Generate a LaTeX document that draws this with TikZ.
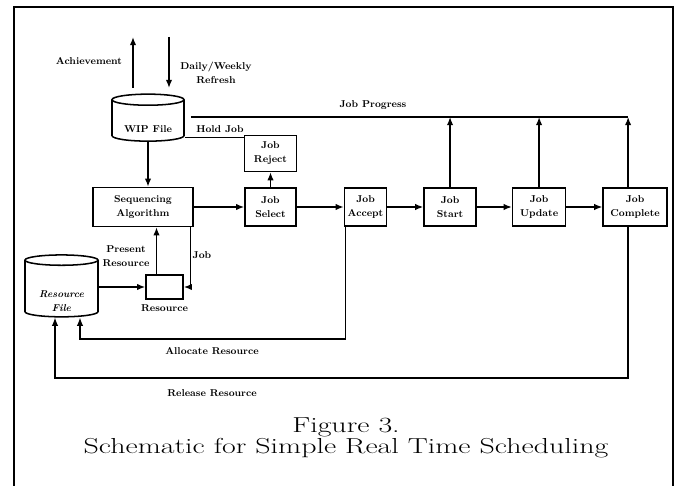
\documentclass[tikz,border=0pt]{standalone}
\usepackage{fontspec}
\newfontfamily\capfont[FakeStretch=1.38]{Latin Modern Roman}
\usetikzlibrary{positioning, arrows.meta, shapes.geometric, calc}

\begin{document}
\begin{tikzpicture}[
    x=0.03cm, y=-0.03cm,
    node distance=1.08cm,
    box/.style={draw, line width=1.3pt, minimum height=1.14cm, inner sep=1pt,
                font=\fontsize{8.5}{12}\selectfont\bfseries, align=center},
    store/.style={draw, line width=1.3pt, cylinder, shape border rotate=90,
                  aspect=0.22, inner sep=1pt, align=center,
                  font=\fontsize{8.5}{12}\selectfont\bfseries},
    arrow/.style={-{Latex[length=7pt, width=5.5pt]}, line width=1.2pt},
    link/.style={line width=1.2pt},
    label/.style={font=\fontsize{8.5}{11.5}\selectfont\bfseries, align=center},
]

\useasboundingbox (0,0) rectangle (682,486);

% === Frame ===
\draw[line width=2.2pt] (14,486) |- (673,7) -- (673,486);

% === Files ===
\node[store, minimum width=2.16cm, minimum height=1.41cm, text height=19pt]
  (wip) at (148,121.5) {WIP File};
\node[store, minimum width=2.19cm, minimum height=1.65cm,
      font=\fontsize{8.5}{12}\selectfont\bfseries\itshape] (resfile) at (61.5,289.5)
  {\rule{0pt}{26pt}Resource\\File};

% === Scheduling chain ===
\node[box, minimum width=3cm, minimum height=1.17cm] (seq) at (143,207)
  {Sequencing\\Algorithm};
\node[box, minimum width=1.53cm] (select) at (270.5,207) {Job\\Select};
\node[box, minimum width=1.26cm, right=1.41cm of select] (accept) {Job\\Accept};
\node[box, minimum width=1.56cm, right=1.08cm of accept] (start) {Job\\Start};
\node[box, minimum width=1.59cm, right=1.05cm of start] (update) {Job\\Update};
\node[box, minimum width=1.92cm, right=1.08cm of update] (complete) {Job\\Complete};
\node[box, minimum width=1.56cm, minimum height=1.08cm, above=0.45cm of select]
  (reject) {Job\\Reject};

% === Resource ===
\node[box, minimum width=1.11cm, minimum height=0.72cm] (res) at (164.5,287) {};
\node[label, below=1pt of res] (reslabel) {Resource};

% === Outside flows ===
\coordinate (achlow)  at (133,88);
\coordinate (achhigh) at (133,37);
\coordinate (refhigh) at (169,37);
\coordinate (reflow)  at (169,88);
\draw[arrow] (achlow) -- (achhigh);
\draw[arrow] (refhigh) -- (reflow);
\node[label] (achlabel) at (89,61) {Achievement};
\node[label] (reflabel) at (216,73) {Daily/Weekly\\Refresh};

% === Arrows ===
\draw[arrow] (wip.south) -- (wip.south |- seq.north);
\draw[arrow] (seq) -- (select);
\draw[arrow] (select) -- (reject);
\draw[arrow] (select) -- (accept);
\draw[arrow] (accept) -- (start);
\draw[arrow] (start) -- (update);
\draw[arrow] (update) -- (complete);

% Hold job
\coordinate (holdend) at ($(reject.north west)+(0,3)$);
\draw[link] (holdend) -- (holdend -| wip.east);
\node[label] (holdlabel) at (220,129) {Hold Job};

% Job progress
\coordinate (prog) at (0,117);
\coordinate (cdone) at ($(complete.south)+(-7,0)$);
\draw[link] ([xshift=0.18cm]wip.east |- prog) -- (cdone |- prog);
\draw[arrow] (start.north) -- (start.north |- prog);
\draw[arrow] (update.north) -- (update.north |- prog);
\draw[arrow] (cdone |- complete.north) -- (cdone |- prog);
\node[label] (proglabel) at (373,105) {Job Progress};

% Resource loop
\coordinate (presfoot) at ($(res.north)+(-8,0)$);
\coordinate (jobtop) at ($(seq.south east)+(-3,0)$);
\draw[arrow] (resfile.east |- res) -- (res.west);
\draw[arrow] (presfoot) -- (presfoot |- seq.south);
\draw[arrow] (jobtop) |- (res.east);
\node[label] (preslabel) at (126,256) {Present\\Resource};
\node[label] (joblabel) at (202,255) {Job};

% Allocate / release
\coordinate (allocfoot) at ($(accept.south west)+(2,0)$);
\coordinate (alloc) at (80,339);
\coordinate (release) at (55,378);
\draw[arrow] (allocfoot) |- (alloc) -- (alloc |- resfile.south);
\draw[arrow] (cdone) |- (release) -- (release |- resfile.south);
\node[label] (alloclabel) at (212,351) {Allocate Resource};
\node[label] (rellabel) at (212,393) {Release Resource};

% === Caption ===
\node[font=\capfont\fontsize{18.5}{18}\selectfont, align=center] (caption) at (346,438)
  {Figure 3.\\Schematic for Simple Real Time Scheduling};

\end{tikzpicture}
\end{document}
